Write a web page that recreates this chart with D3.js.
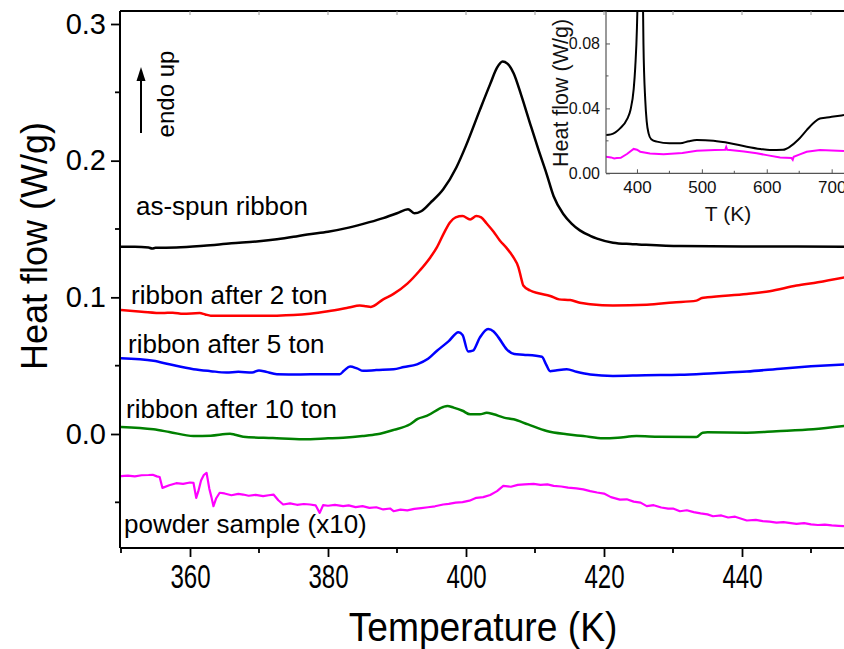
<!DOCTYPE html>
<html><head><meta charset="utf-8">
<script src="https://cdn.jsdelivr.net/npm/d3@7/dist/d3.min.js"></script>
<style>
html,body{margin:0;padding:0;background:#fff;}
svg{display:block;font-family:"Liberation Sans",Arial,sans-serif;}
</style></head>
<body>
<svg id="chart" width="844" height="649"></svg>
<script>
// ---------- data (Temperature K, Heat flow W/g) ----------
const asSpunT = [350,352,354,354.5,355,358,362,366,370,372.6,375,377,380,383,386,388,390,391.6,392.5,393.5,394.8,396.7,398.6,400,402,403.5,404.5,405.3,406,406.9,408,409.3,410.5,411.7,412.7,414.1,415.3,416.5,418,419,421.3,423.8,425,431,440,448,455];
const asSpunV = [0.137,0.137,0.1365,0.1357,0.1362,0.1365,0.1378,0.1395,0.141,0.1425,0.1443,0.146,0.148,0.151,0.155,0.158,0.1615,0.1645,0.1615,0.163,0.169,0.179,0.195,0.211,0.237,0.256,0.268,0.2725,0.271,0.264,0.248,0.227,0.208,0.19,0.174,0.161,0.154,0.149,0.145,0.143,0.140,0.139,0.1387,0.1375,0.1372,0.1372,0.137];

const ton2T = [350,353,356,357.5,359,361.4,362.2,363,366,370,372.6,375,377.4,380,383,384.6,385.5,386.2,388,389.5,391.5,393.3,394.8,395.8,396.8,397.7,398.5,399.5,400.6,401.5,402.2,403,404,404.9,405.9,406.9,407.6,408,408.3,409.3,410.5,412.2,413.5,415.1,416.5,418,421.3,426.2,430,433.4,434.2,435,440.7,444,447.9,451,455];
const ton2V = [0.0907,0.0895,0.0885,0.0888,0.088,0.0885,0.0875,0.0866,0.0866,0.0865,0.0866,0.087,0.088,0.0898,0.0925,0.094,0.0935,0.093,0.0985,0.1025,0.110,0.1196,0.129,0.1367,0.147,0.155,0.1585,0.1595,0.157,0.1595,0.1585,0.154,0.148,0.1416,0.136,0.129,0.122,0.114,0.1086,0.105,0.103,0.101,0.0985,0.098,0.096,0.095,0.094,0.0946,0.0962,0.0976,0.0995,0.1,0.1025,0.1045,0.1086,0.111,0.1147];

const ton5T = [350,354.7,357,360.5,363,365.3,367,369,370,371,372.6,376,379,381.7,382.3,383.2,384.2,385.1,387,389.5,391,392.9,394.5,395.8,397.5,398.9,399.5,400.3,401,402,403.2,404,404.7,405.9,407,408.3,411,411.6,412.2,413,414.6,416,418,421.3,426,431,436,440.7,446,450,455];
const ton5V = [0.0555,0.0536,0.051,0.0474,0.046,0.045,0.0455,0.045,0.0465,0.0455,0.0438,0.0436,0.0438,0.0438,0.0462,0.0494,0.048,0.0462,0.0468,0.0474,0.049,0.051,0.055,0.0609,0.068,0.0745,0.0725,0.0604,0.061,0.0705,0.0768,0.075,0.0707,0.062,0.0585,0.058,0.0565,0.051,0.046,0.0465,0.0474,0.0455,0.0435,0.0425,0.043,0.0433,0.0445,0.0457,0.048,0.0495,0.051];

const ton10T = [350,354.7,357,360.5,363,365.8,366.5,367.7,372,376.4,380,382.2,385,387.1,389.5,391.9,393,394.3,396.7,397.3,398.2,399.5,400.6,402,403,404,405.5,406.9,409,411.7,414.6,417,419.9,422,424.7,428,433.4,434.3,435,440.7,445,450.3,455];
const ton10V = [0.0051,0.0034,0.0015,-0.0015,-0.0012,0.0002,-0.0005,-0.002,-0.003,-0.0039,-0.0032,-0.0027,-0.0015,-0.0002,0.003,0.0071,0.011,0.0132,0.0198,0.0205,0.0193,0.017,0.0144,0.0144,0.0155,0.0144,0.012,0.0108,0.007,0.0022,-0.0002,-0.0015,-0.0032,-0.0028,-0.0015,-0.002,-0.0022,0.001,0.0012,0.001,0.002,0.0034,0.0059];

const powderT = [350,351,352,353,354,354.6,355.2,355.6,356,357,358,359,360,360.5,360.9,361.2,361.6,362,362.4,362.8,363.1,363.4,363.8,364.3,365,366,367,367.7,368.5,369.5,370.6,371.4,372.1,372.8,373.5,374.5,375.5,376.5,377.4,378.2,378.8,379.3,380,381,382.2,383,384,385,386,387,388,389,389.5,390.5,391.5,392.5,393.5,394.5,395.5,396.7,397.5,398.5,399.5,400.5,401.5,402.5,403.5,404.5,405.4,406.5,407.5,408.5,409.8,410.8,411.8,412.7,413.8,414.8,416,417,418,419,420,421,422.3,423.3,424.3,425.3,426.2,427.2,428.3,429.3,430,431,432,433,434,435,435.8,437,438,439,440.7,442,443,444,445,446,447.9,449,450,451,452,453,454,455];
const powderV = [-0.0308,-0.0305,-0.031,-0.0302,-0.030,-0.0298,-0.031,-0.0315,-0.0394,-0.0375,-0.036,-0.0365,-0.0355,-0.0357,-0.0467,-0.042,-0.034,-0.030,-0.0284,-0.040,-0.046,-0.0528,-0.047,-0.043,-0.0435,-0.0448,-0.0438,-0.0443,-0.0452,-0.0445,-0.0455,-0.0448,-0.0443,-0.0485,-0.0516,-0.0508,-0.0518,-0.0512,-0.0516,-0.0522,-0.0577,-0.052,-0.0525,-0.0519,-0.0528,-0.0522,-0.0535,-0.0528,-0.0541,-0.0536,-0.0552,-0.0545,-0.0565,-0.0553,-0.0559,-0.0548,-0.0542,-0.0536,-0.0529,-0.0516,-0.0511,-0.0502,-0.0498,-0.0488,-0.0467,-0.0462,-0.0446,-0.0418,-0.038,-0.0386,-0.0372,-0.0368,-0.0365,-0.0372,-0.0369,-0.038,-0.0384,-0.0392,-0.0398,-0.0405,-0.0418,-0.0428,-0.0436,-0.0462,-0.048,-0.0478,-0.0495,-0.0502,-0.0528,-0.0521,-0.0538,-0.0546,-0.0545,-0.0565,-0.0558,-0.0572,-0.0581,-0.0588,-0.0602,-0.0596,-0.0611,-0.0605,-0.0633,-0.0628,-0.0637,-0.0641,-0.0648,-0.0645,-0.0658,-0.0652,-0.0661,-0.0666,-0.0663,-0.0669,-0.0672,-0.0675];

// inset data
const insetBlackT = [352,360,374,385,390,395,397.4,400,402,405,408,410,412.8,415,417.9,422,430.8,450,466.6,480,492.3,517.9,543.5,569.2,590,605,625,635.8,648,661.5,672,682,690,700,719];
const insetBlackV = [0.0236,0.024,0.0277,0.0335,0.039,0.052,0.0656,0.09,0.13,0.2725,0.15,0.08,0.045,0.032,0.0246,0.021,0.0195,0.0185,0.0185,0.0198,0.0205,0.020,0.0185,0.0164,0.015,0.0143,0.0145,0.0164,0.0205,0.0266,0.031,0.0338,0.0342,0.0348,0.0359];
const insetPowderT = [352,360,365,369,375,384.6,394.9,400,405,420,441,470,492.3,520,536,537.5,539,543.5,565,584.6,600,620.5,638,640,641.5,650,661.5,682,700,719];
const insetPowderV = [0.0102,0.0098,0.0092,0.0094,0.0095,0.0119,0.015,0.0145,0.0133,0.0122,0.0117,0.0125,0.0139,0.0143,0.0145,0.0162,0.0145,0.0143,0.0135,0.0123,0.0112,0.0098,0.0095,0.0083,0.0102,0.0115,0.0133,0.0143,0.014,0.0137];

const seriesNames = ["as-spun ribbon","ribbon after 2 ton","ribbon after 5 ton","ribbon after 10 ton","powder sample (x10)"];
const seriesColors = ["#000000","#ff0000","#0000ff","#008000","#ff00ff"];
const xTicks = [360,380,400,420,440];
const xMinor = [350,370,390,410,430,450];
const yTicks = [0.0,0.1,0.2,0.3];
const yMinor = [-0.05,0.05,0.15,0.25];
const insetXTicks = [400,500,600,700];
const insetXMinor = [450,550,650];
const insetYTicks = [0.00,0.04,0.08];
const insetYMinor = [0.02,0.06];

// ---------- drawing ----------
const svg = d3.select("#chart");
const x = d3.scaleLinear().domain([350,455]).range([121,845.5]);
const y = d3.scaleLinear().domain([0,0.3]).range([434,24]);
const yBottom = 548, yTop = 11;

const series = [
  {T:asSpunT,V:asSpunV},{T:ton2T,V:ton2V},{T:ton5T,V:ton5V},{T:ton10T,V:ton10V},{T:powderT,V:powderV}
];
const line = d3.line().x(d=>x(d[0])).y(d=>y(d[1])).curve(d3.curveMonotoneX);
series.forEach((s,i)=>{
  const pts = s.T.map((t,k)=>[t,s.V[k]]);
  svg.append("path").datum(pts)
    .attr("d", i===4 ? d3.line().x(d=>x(d[0])).y(d=>y(d[1]))(pts) : line(pts))
    .attr("fill","none").attr("stroke",seriesColors[i])
    .attr("stroke-width", i===4 ? 2.2 : 2.5)
    .attr("stroke-linejoin","round");
});

// top border with small ticks
svg.append("line").attr("x1",120).attr("x2",844).attr("y1",yTop).attr("y2",yTop)
  .attr("stroke","#000").attr("stroke-width",2);
d3.range(360,455,10).forEach(t=>{
  svg.append("line").attr("x1",x(t)).attr("x2",x(t)).attr("y1",yTop).attr("y2",yTop+4)
    .attr("stroke","#999").attr("stroke-width",1);
});

// x axis
const xAxis = svg.append("g").attr("transform",`translate(0,${yBottom})`)
  .call(d3.axisBottom(x).tickValues(xTicks).tickSize(9).tickPadding(8).tickFormat(d3.format("d")));
xAxis.select(".domain").attr("d",`M120,0H844`).attr("stroke-width",2);
xAxis.selectAll(".tick line").attr("stroke-width",1.8);
xAxis.selectAll(".tick text").attr("font-size",33).attr("fill","#000")
  .attr("font-family","'Liberation Sans',Arial,sans-serif")
  .attr("transform","scale(0.73,1)");
xMinor.forEach(t=>{
  svg.append("line").attr("x1",x(t)).attr("x2",x(t)).attr("y1",yBottom).attr("y2",yBottom+5)
    .attr("stroke","#000").attr("stroke-width",1.8);
});

// y axis
const yAxis = svg.append("g").attr("transform",`translate(120,0)`)
  .call(d3.axisLeft(y).tickValues(yTicks).tickSize(9).tickPadding(5).tickFormat(d3.format(".1f")));
yAxis.select(".domain").attr("d",`M0,${yTop}V${yBottom}`).attr("stroke-width",2);
yAxis.selectAll(".tick line").attr("stroke-width",1.8);
yAxis.selectAll(".tick text").attr("font-size",29).attr("fill","#000")
  .attr("font-family","'Liberation Sans',Arial,sans-serif");
yMinor.forEach(v=>{
  svg.append("line").attr("x1",120).attr("x2",115).attr("y1",y(v)).attr("y2",y(v))
    .attr("stroke","#000").attr("stroke-width",1.8);
});

// axis titles
svg.append("text").attr("transform","translate(483,641) scale(0.93,1)")
  .attr("text-anchor","middle").attr("font-size",40).text("Temperature (K)");
svg.append("text").attr("transform","translate(47,246) rotate(-90)")
  .attr("text-anchor","middle").attr("font-size",36).text("Heat flow (W/g)");

// series labels
const labelPos = [[136,215],[131,304],[128,353],[126,418],[124,533]];
seriesNames.forEach((n,i)=>{
  svg.append("text").attr("x",labelPos[i][0]).attr("y",labelPos[i][1])
    .attr("font-size",26).attr("fill","#000").text(n);
});

// endo up arrow
svg.append("line").attr("x1",141).attr("x2",141).attr("y1",133).attr("y2",78)
  .attr("stroke","#000").attr("stroke-width",2);
svg.append("path").attr("d","M141,67 L136.5,81 L145.5,81 Z").attr("fill","#000");
svg.append("text").attr("transform","translate(174,94) rotate(-90)")
  .attr("text-anchor","middle").attr("font-size",24).text("endo up");

// ---------- inset ----------
const ix = d3.scaleLinear().domain([352.3,719]).range([606,844]);
const iy = d3.scaleLinear().domain([0,0.1]).range([173.3,11]);
svg.append("defs").append("clipPath").attr("id","insetClip")
  .append("rect").attr("x",606).attr("y",11).attr("width",238).attr("height",162.3);
const ig = svg.append("g");
const iline = d3.line().x(d=>ix(d[0])).y(d=>iy(d[1]));
const ib = insetBlackT.map((t,k)=>[t,insetBlackV[k]]);
const ip = insetPowderT.map((t,k)=>[t,insetPowderV[k]]);
ig.append("path").attr("clip-path","url(#insetClip)").attr("d",d3.line().x(d=>ix(d[0])).y(d=>iy(d[1])).curve(d3.curveMonotoneX)(ib))
  .attr("fill","none").attr("stroke","#000").attr("stroke-width",2);
ig.append("path").attr("clip-path","url(#insetClip)").attr("d",iline(ip))
  .attr("fill","none").attr("stroke","#ff00ff").attr("stroke-width",2);

// inset axes
const ixAxis = ig.append("g").attr("transform","translate(0,173.3)")
  .call(d3.axisBottom(ix).tickValues(insetXTicks).tickSize(-4).tickPadding(8).tickFormat(d3.format("d")));
ixAxis.select(".domain").attr("d","M606,0H844").attr("stroke","#555").attr("stroke-width",1.2);
ixAxis.selectAll(".tick line").attr("stroke","#555");
ixAxis.selectAll(".tick text").attr("font-size",17).attr("fill","#111");
insetXMinor.forEach(t=>{
  ig.append("line").attr("x1",ix(t)).attr("x2",ix(t)).attr("y1",173.3).attr("y2",170.8).attr("stroke","#555");
});
const iyAxis = ig.append("g").attr("transform","translate(606,0)")
  .call(d3.axisLeft(iy).tickValues(insetYTicks).tickSize(-4).tickPadding(6).tickFormat(d3.format(".2f")));
iyAxis.select(".domain").attr("d","M0,11V173.3").attr("stroke","#555").attr("stroke-width",1.2);
iyAxis.selectAll(".tick line").attr("stroke","#555");
iyAxis.selectAll(".tick text").attr("font-size",16).attr("fill","#111");
insetYMinor.forEach(v=>{
  ig.append("line").attr("x1",606).attr("x2",608.5).attr("y1",iy(v)).attr("y2",iy(v)).attr("stroke","#555");
});
ig.append("text").attr("x",728).attr("y",221).attr("text-anchor","middle")
  .attr("font-size",21).attr("fill","#111").text("T (K)");
ig.append("text").attr("transform","translate(568,93) rotate(-90)")
  .attr("text-anchor","middle").attr("font-size",21.5).attr("fill","#111").text("Heat flow (W/g)");
</script>
</body></html>
